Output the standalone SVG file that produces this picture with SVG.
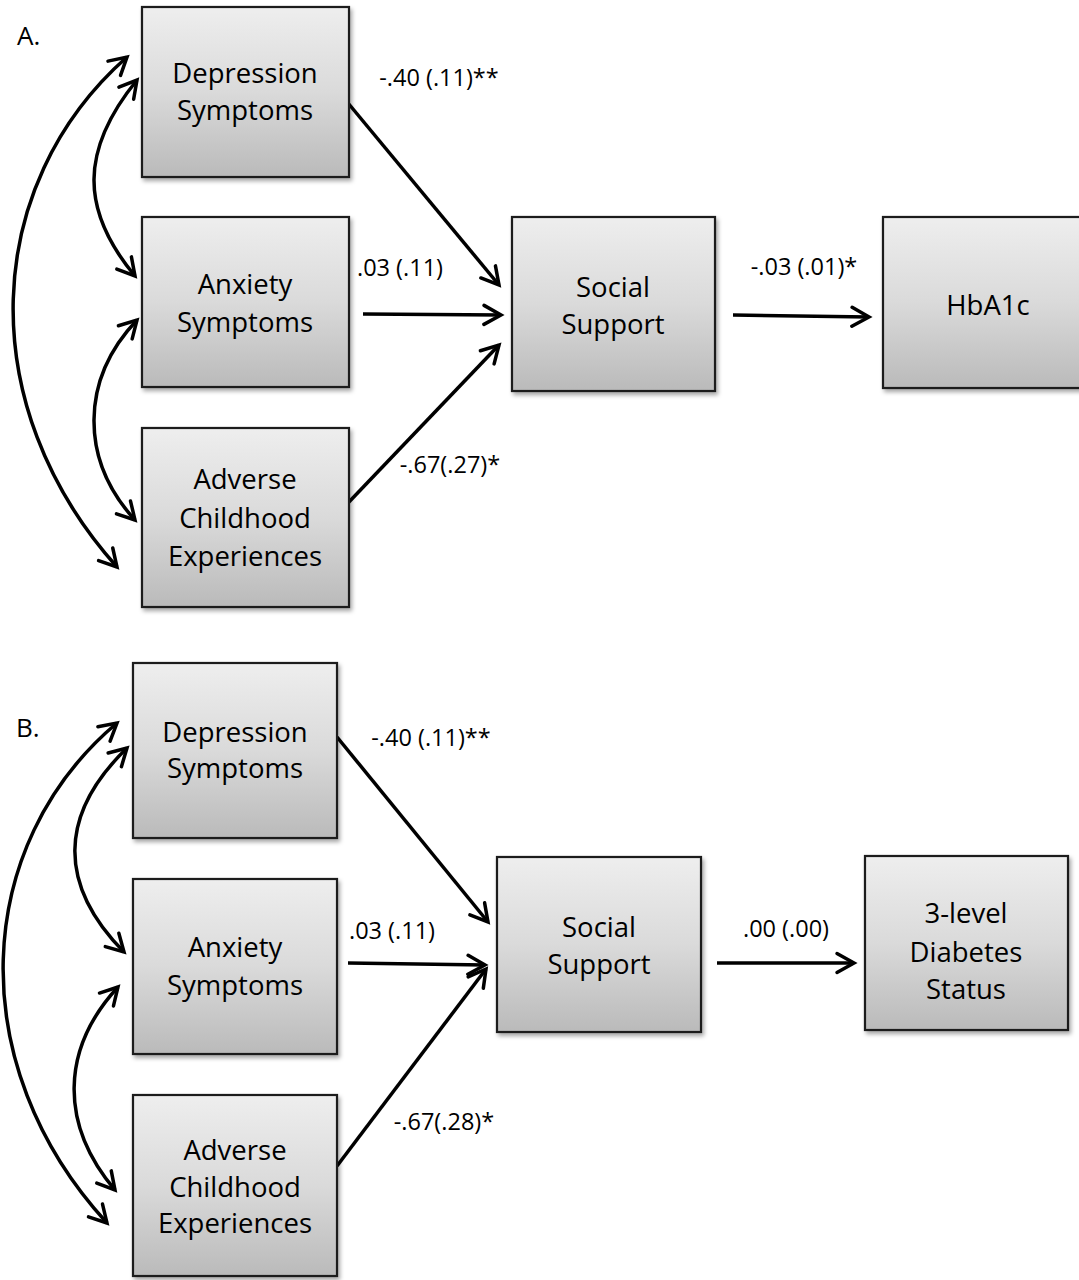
<svg xmlns="http://www.w3.org/2000/svg" width="1079" height="1280" viewBox="0 0 1079 1280">
<style>
.box{fill:url(#g);stroke:#1a1a1a;stroke-width:2.2;filter:url(#sh)}
.t{font-family:"Open Sans","Liberation Sans",sans-serif;font-size:27.5px;fill:#000;text-anchor:middle}
.l{font-family:"Open Sans","Liberation Sans",sans-serif;font-size:23.5px;fill:#000;text-anchor:middle}
.p{font-family:"Open Sans","Liberation Sans",sans-serif;font-size:26px;fill:#000}
.c{fill:none;stroke:#000;stroke-width:3.5;marker-end:url(#ah)}
.d{fill:none;stroke:#000;stroke-width:3.5;marker-start:url(#ah);marker-end:url(#ah)}
</style>
<defs>
<linearGradient id="g" x1="0" y1="0" x2="0" y2="1">
<stop offset="0" stop-color="#eeeeee"/>
<stop offset="0.5" stop-color="#dadada"/>
<stop offset="1" stop-color="#bababa"/>
</linearGradient>
<filter id="sh" x="-10%" y="-10%" width="130%" height="130%">
<feDropShadow dx="2" dy="3" stdDeviation="2" flood-color="#000" flood-opacity="0.35"/>
</filter>
<marker id="ah" viewBox="0 0 24 24" refX="20" refY="12" markerWidth="24" markerHeight="24" markerUnits="userSpaceOnUse" orient="auto-start-reverse">
<path d="M3,2.5 L20,12 L3,21.5" fill="none" stroke="#000" stroke-width="3.5" stroke-linecap="round" stroke-linejoin="miter"/>
</marker>
</defs>
<rect width="1079" height="1280" fill="#fff"/>

<text class="p" x="17" y="45">A.</text>
<text class="p" x="16" y="737">B.</text>

<g id="connectors">
<!-- Panel A -->
<path class="c" d="M348,103 L499,285"/>
<path class="c" d="M363,314 L501,315"/>
<path class="c" d="M348,503 L499,345"/>
<path class="c" d="M733,315 L869,317"/>
<path class="d" d="M137,80 C80,150 80,210 135,276"/>
<path class="d" d="M137,320 C80,380 80,460 135,520"/>
<path class="d" d="M127,57 C-18,185 -28,405 117,567"/>
<!-- Panel B -->
<path class="c" d="M337,737 L488,922"/>
<path class="c" d="M348,963 L485,965"/>
<path class="c" d="M337,1166 L486,969"/>
<path class="c" d="M717,963 L854,963"/>
<path class="d" d="M127,748 C58,815 58,885 124,952"/>
<path class="d" d="M118,987 C60,1050 60,1125 115,1190"/>
<path class="d" d="M117,723 C-28,845 -38,1065 107,1223"/>
</g>

<g id="labels">
<text class="l" x="439" y="86">-.40 (.11)**</text>
<text class="l" x="400" y="276">.03 (.11)</text>
<text class="l" x="450" y="473">-.67(.27)*</text>
<text class="l" x="804" y="275">-.03 (.01)*</text>
<text class="l" x="431" y="746">-.40 (.11)**</text>
<text class="l" x="392" y="939">.03 (.11)</text>
<text class="l" x="444" y="1130">-.67(.28)*</text>
<text class="l" x="786" y="937">.00 (.00)</text>
</g>

<g id="a-depression"><rect class="box" x="142" y="7" width="207" height="170"/><text class="t" x="245" y="83">Depression</text><text class="t" x="245" y="120">Symptoms</text></g>
<g id="a-anxiety"><rect class="box" x="142" y="217" width="207" height="170"/><text class="t" x="245" y="294">Anxiety</text><text class="t" x="245" y="332">Symptoms</text></g>
<g id="a-adverse"><rect class="box" x="142" y="428" width="207" height="179"/><text class="t" x="245" y="489">Adverse</text><text class="t" x="245" y="528">Childhood</text><text class="t" x="245" y="566">Experiences</text></g>
<g id="a-social"><rect class="box" x="512" y="217" width="203" height="174"/><text class="t" x="613" y="297">Social</text><text class="t" x="613" y="334">Support</text></g>
<g id="a-hba1c"><rect class="box" x="883" y="217" width="210" height="171"/><text class="t" x="988" y="315">HbA1c</text></g>

<g id="b-depression"><rect class="box" x="133" y="663" width="204" height="175"/><text class="t" x="235" y="742">Depression</text><text class="t" x="235" y="778">Symptoms</text></g>
<g id="b-anxiety"><rect class="box" x="133" y="879" width="204" height="175"/><text class="t" x="235" y="957">Anxiety</text><text class="t" x="235" y="995">Symptoms</text></g>
<g id="b-adverse"><rect class="box" x="133" y="1095" width="204" height="181"/><text class="t" x="235" y="1160">Adverse</text><text class="t" x="235" y="1197">Childhood</text><text class="t" x="235" y="1233">Experiences</text></g>
<g id="b-social"><rect class="box" x="497" y="857" width="204" height="175"/><text class="t" x="599" y="937">Social</text><text class="t" x="599" y="974">Support</text></g>
<g id="b-diabetes"><rect class="box" x="865" y="856" width="203" height="174"/><text class="t" x="966" y="923">3-level</text><text class="t" x="966" y="962">Diabetes</text><text class="t" x="966" y="999">Status</text></g>
</svg>
